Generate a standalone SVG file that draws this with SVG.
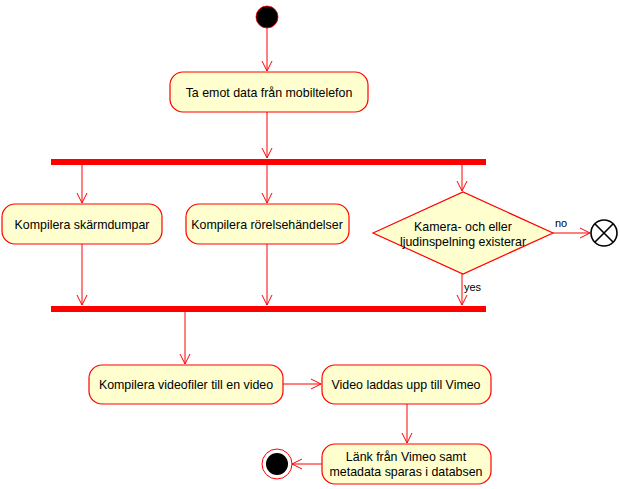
<svg xmlns="http://www.w3.org/2000/svg" width="620" height="489" viewBox="0 0 620 489">
<style>
.act{fill:#FEFECE;stroke:#FF0000;stroke-width:1.2}
.bar{fill:#FF0000}
.t{font-family:"Liberation Sans",Arial,sans-serif;font-size:12.4px;fill:#000;text-anchor:middle}
.lbl{font-family:"Liberation Sans",Arial,sans-serif;font-size:11px;fill:#000}
.c{stroke:#FF0000;stroke-width:1;fill:none;marker-end:url(#ah)}
</style>
<defs>
<marker id="ah" markerWidth="12" markerHeight="12" refX="10" refY="5" orient="auto" markerUnits="userSpaceOnUse" viewBox="0 0 12 10">
<path d="M0,0 L10,5 L0,10" fill="none" stroke="#FF0000" stroke-width="1"/>
</marker>
</defs>
<rect width="620" height="489" fill="#FFFFFF"/>
<g id="connectors">
<line class="c" x1="267" y1="28" x2="267" y2="71"/>
<line class="c" x1="267" y1="112" x2="267" y2="158"/>
<line class="c" x1="82" y1="165" x2="82" y2="203"/>
<line class="c" x1="267" y1="165" x2="267" y2="203"/>
<line class="c" x1="462" y1="165" x2="462" y2="191"/>
<line class="c" x1="82" y1="244" x2="82" y2="305"/>
<line class="c" x1="267" y1="244" x2="267" y2="305"/>
<line class="c" x1="462" y1="274" x2="462" y2="305"/>
<line class="c" x1="553" y1="233" x2="590" y2="233"/>
<line class="c" x1="185" y1="312" x2="185" y2="364"/>
<line class="c" x1="283" y1="384" x2="321" y2="384"/>
<line class="c" x1="407" y1="404" x2="407" y2="443"/>
<line class="c" x1="322" y1="464" x2="292" y2="464"/>
<text class="lbl" x="555" y="227">no</text>
<text class="lbl" x="464" y="291">yes</text>
</g>
<g id="start"><circle cx="267" cy="17" r="11" fill="#000" stroke="#FF0000" stroke-width="0.8"/></g>
<g id="n1"><rect class="act" x="170" y="72" width="198" height="40" rx="13"/><text class="t" x="269" y="97">Ta emot data från mobiltelefon</text></g>
<g id="fork"><rect class="bar" x="51" y="159" width="435" height="6"/></g>
<g id="n2"><rect class="act" x="2" y="204" width="160" height="40" rx="13"/><text class="t" x="82" y="229">Kompilera skärmdumpar</text></g>
<g id="n3"><rect class="act" x="186" y="204" width="163" height="40" rx="13"/><text class="t" x="267" y="229">Kompilera rörelsehändelser</text></g>
<g id="d1"><polygon class="act" points="373,233 463,192 553,233 463,274"/><text class="t" x="463" y="231">Kamera- och eller</text><text class="t" x="463" y="246">ljudinspelning existerar</text></g>
<g id="flowend"><circle cx="604" cy="233" r="13" fill="#FFFFFF" stroke="#000" stroke-width="1.6"/><path d="M594.8,223.8 L613.2,242.2 M613.2,223.8 L594.8,242.2" stroke="#000" stroke-width="1.6"/></g>
<g id="join"><rect class="bar" x="51" y="306" width="435" height="6"/></g>
<g id="n4"><rect class="act" x="89" y="365" width="194" height="39" rx="13"/><text class="t" x="186" y="389">Kompilera videofiler till en video</text></g>
<g id="n5"><rect class="act" x="322" y="365" width="169" height="39" rx="13"/><text class="t" x="406" y="389">Video laddas upp till Vimeo</text></g>
<g id="n6"><rect class="act" x="322" y="444" width="169" height="40" rx="13"/><text class="t" x="406" y="461">Länk från Vimeo samt</text><text class="t" x="406" y="476">metadata sparas i databsen</text></g>
<g id="end"><circle cx="277" cy="464" r="15" fill="#FFFFFF" stroke="#FF0000" stroke-width="1"/><circle cx="277" cy="464" r="11" fill="#000"/></g>
</svg>
